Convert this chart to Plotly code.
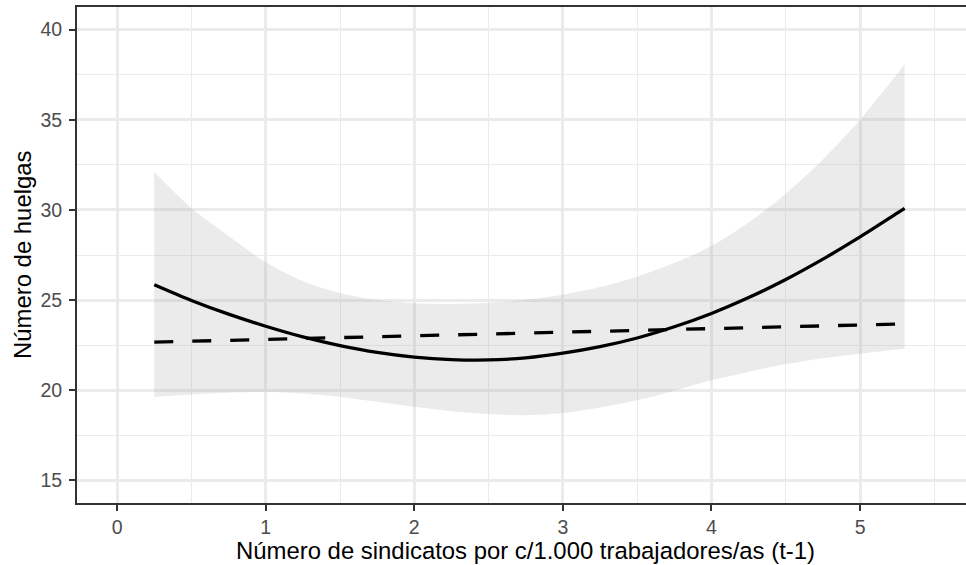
import plotly.graph_objects as go

# Fitted values (quadratic model) with its 95% band, plus linear fit
x_fit = [0.25, 0.5, 0.75, 1.0, 1.25, 1.5, 1.75, 2.0, 2.25, 2.5, 2.75,
         3.0, 3.25, 3.5, 3.75, 4.0, 4.25, 4.5, 4.75, 5.0, 5.25, 5.3]
quad_fit = [25.85, 24.98, 24.22, 23.55, 22.96, 22.48, 22.10, 21.84, 21.70, 21.68, 21.80,
            22.06, 22.42, 22.90, 23.52, 24.26, 25.14, 26.14, 27.27, 28.50, 29.82, 30.08]
band_upper = [32.10, 30.10, 28.55, 27.10, 26.05, 25.40, 25.00, 24.82, 24.78, 24.85, 25.02,
              25.30, 25.72, 26.30, 27.05, 28.00, 29.30, 30.90, 32.80, 35.00, 37.55, 38.08]
band_lower = [19.63, 19.76, 19.86, 19.90, 19.82, 19.63, 19.36, 19.08, 18.84, 18.68, 18.62,
              18.74, 19.05, 19.45, 19.98, 20.55, 21.02, 21.45, 21.78, 22.03, 22.26, 22.30]

x_lin = [0.25, 5.3]
lin_fit = [22.67, 23.68]

x_ticks = [0, 1, 2, 3, 4, 5]
y_ticks = [15, 20, 25, 30, 35, 40]

FONT = "Liberation Sans, Arial, Helvetica, sans-serif"
GRID = "#ebebeb"
DARK = "#333333"

fig = go.Figure()

fig.add_trace(go.Scatter(
    x=x_fit, y=band_lower, mode="lines",
    line=dict(width=0, shape="spline", smoothing=0.8),
    showlegend=False, hoverinfo="skip"))
fig.add_trace(go.Scatter(
    x=x_fit, y=band_upper, mode="lines",
    line=dict(width=0, shape="spline", smoothing=0.8),
    fill="tonexty", fillcolor="rgba(153,153,153,0.2)",
    showlegend=False, hoverinfo="skip"))

fig.add_trace(go.Scatter(
    x=x_lin, y=lin_fit, mode="lines",
    line=dict(color="black", width=3.3, dash="19px,19px"),
    showlegend=False))
fig.add_trace(go.Scatter(
    x=x_fit, y=quad_fit, mode="lines",
    line=dict(color="black", width=3.3, shape="spline", smoothing=0.8),
    showlegend=False))

W, H = 966, 565
L, R, T, B = 77, 0, 7, 62

fig.update_layout(
    width=W, height=H,
    margin=dict(l=L, r=R, t=T, b=B, pad=0),
    paper_bgcolor="white", plot_bgcolor="white",
    font=dict(family=FONT),
    showlegend=False,
    xaxis=dict(
        range=[-0.27, 5.713],
        tickvals=x_ticks, ticktext=[str(v) for v in x_ticks],
        showgrid=True, gridcolor=GRID, gridwidth=2.5,
        minor=dict(dtick=0.5, tick0=0, showgrid=True, gridcolor=GRID, gridwidth=1.4, ticks=""),
        zeroline=False,
        showline=True, linecolor=DARK, linewidth=2, mirror=True,
        ticks="outside", ticklen=6, tickwidth=2, tickcolor=DARK,
        tickfont=dict(size=19.5, color="#4d4d4d", family=FONT),
        ticklabelstandoff=0,
    ),
    yaxis=dict(
        range=[13.75, 41.25],
        tickvals=y_ticks, ticktext=[str(v) for v in y_ticks],
        showgrid=True, gridcolor=GRID, gridwidth=2.5,
        minor=dict(dtick=2.5, tick0=15, showgrid=True, gridcolor=GRID, gridwidth=1.4, ticks=""),
        zeroline=False,
        showline=True, linecolor=DARK, linewidth=2, mirror=False,
        ticks="outside", ticklen=6, tickwidth=2, tickcolor=DARK,
        tickfont=dict(size=19.5, color="#4d4d4d", family=FONT),
        ticklabelstandoff=3,
    ),
    annotations=[
        dict(text="Número de sindicatos por c/1.000 trabajadores/as (t-1)",
             xref="paper", yref="paper",
             x=(525.3 - L) / (W - L - R), y=-(550 - (H - B)) / (H - T - B),
             xanchor="center", yanchor="middle", showarrow=False,
             font=dict(size=23.9, color="black", family=FONT)),
        dict(text="Número de huelgas", textangle=-90,
             xref="paper", yref="paper",
             x=-(L - 22) / (W - L - R), y=0.5,
             xanchor="center", yanchor="middle", showarrow=False,
             font=dict(size=23.9, color="black", family=FONT)),
    ],
)

fig.write_html("out.html")
